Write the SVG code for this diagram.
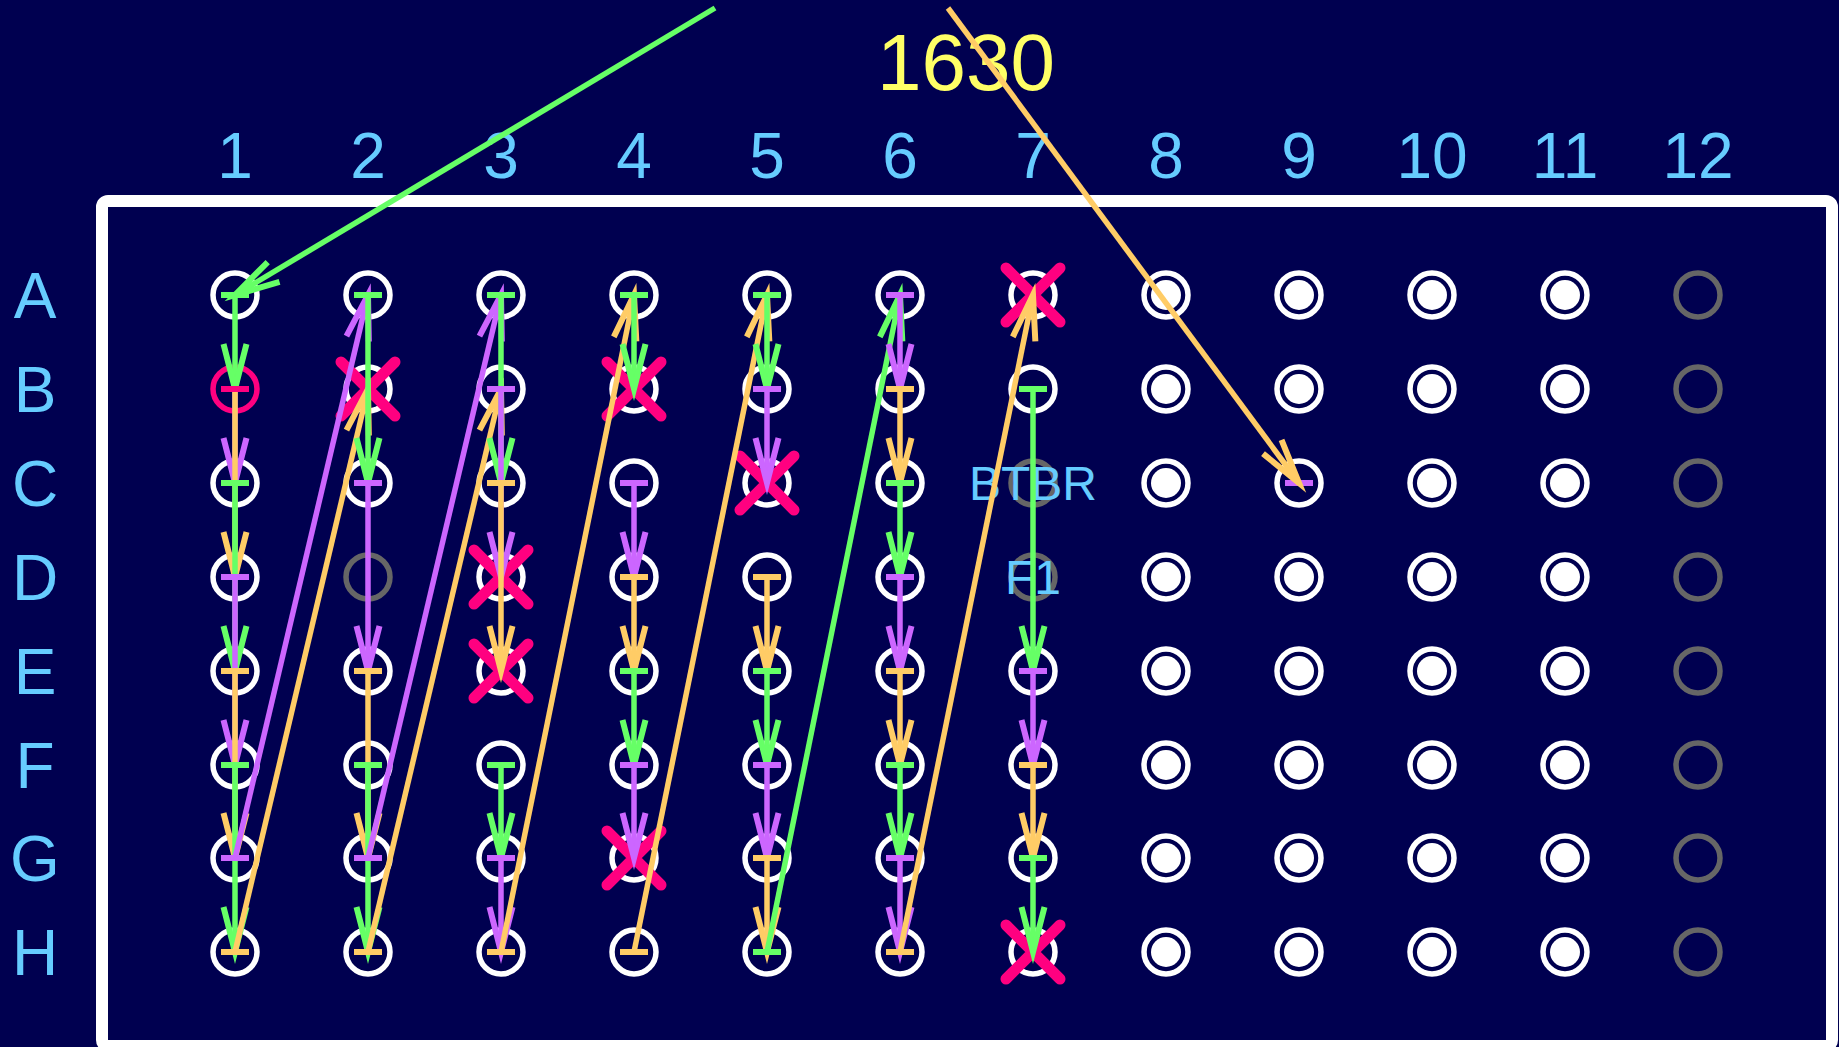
<svg xmlns="http://www.w3.org/2000/svg" width="1839" height="1047" viewBox="0 0 1839 1047">
<style>
.w{fill:none;stroke:#fff;stroke-width:5.5}
.gr{fill:none;stroke:#666;stroke-width:5.5}
.pk{fill:none;stroke:#ff0080;stroke-width:5.5}
.dot{fill:#fff}
.x{fill:none;stroke:#ff0080;stroke-width:11;stroke-linecap:round}
.lbl{font-family:"Liberation Sans",Arial,sans-serif;fill:#66ccff;font-size:64px;text-anchor:middle}
.sm{font-size:48px}
.ttl{font-family:"Liberation Sans",Arial,sans-serif;fill:#ffff66;font-size:80px;text-anchor:middle}
.c{fill:none;stroke-width:5.5}
.cg{stroke:#66ff66}.cp{stroke:#cc66ff}.co{stroke:#ffcc66}.ck{stroke:#ff0080}
.ah{fill:none;stroke-width:6;stroke-linejoin:miter;stroke-miterlimit:10}
.tk{fill:none;stroke-width:6}
.g1{marker-start:url(#tg);marker-end:url(#ag)}
.p1{marker-start:url(#tp);marker-end:url(#ap)}
.o1{marker-start:url(#to);marker-end:url(#ao)}
</style>
<defs>
<marker id="ag" markerUnits="userSpaceOnUse" orient="auto" viewBox="-60 -60 120 120" markerWidth="120" markerHeight="120" refX="0" refY="0"><path class="ah" stroke="#66ff66" d="M-45,-11.5L0,0L-45,11.5"/></marker>
<marker id="ap" markerUnits="userSpaceOnUse" orient="auto" viewBox="-60 -60 120 120" markerWidth="120" markerHeight="120" refX="0" refY="0"><path class="ah" stroke="#cc66ff" d="M-45,-11.5L0,0L-45,11.5"/></marker>
<marker id="ao" markerUnits="userSpaceOnUse" orient="auto" viewBox="-60 -60 120 120" markerWidth="120" markerHeight="120" refX="0" refY="0"><path class="ah" stroke="#ffcc66" d="M-45,-11.5L0,0L-45,11.5"/></marker>
<marker id="tg" markerUnits="userSpaceOnUse" orient="0" viewBox="-30 -30 60 60" markerWidth="60" markerHeight="60" refX="0" refY="0"><path class="tk" stroke="#66ff66" d="M-14,0H14"/></marker>
<marker id="tp" markerUnits="userSpaceOnUse" orient="0" viewBox="-30 -30 60 60" markerWidth="60" markerHeight="60" refX="0" refY="0"><path class="tk" stroke="#cc66ff" d="M-14,0H14"/></marker>
<marker id="to" markerUnits="userSpaceOnUse" orient="0" viewBox="-30 -30 60 60" markerWidth="60" markerHeight="60" refX="0" refY="0"><path class="tk" stroke="#ffcc66" d="M-14,0H14"/></marker>
</defs>
<rect width="1839" height="1047" fill="#000050"/>
<text class="ttl" x="966" y="90">1630</text>
<g id="col-labels">
<text class="lbl" x="235" y="178">1</text><text class="lbl" x="368" y="178">2</text><text class="lbl" x="501" y="178">3</text><text class="lbl" x="634" y="178">4</text><text class="lbl" x="767" y="178">5</text><text class="lbl" x="900" y="178">6</text><text class="lbl" x="1033" y="178">7</text><text class="lbl" x="1166" y="178">8</text><text class="lbl" x="1299" y="178">9</text><text class="lbl" x="1432" y="178">10</text><text class="lbl" x="1565" y="178">11</text><text class="lbl" x="1698" y="178">12</text>
</g>
<g id="row-labels">
<text class="lbl" x="35" y="318">A</text><text class="lbl" x="35" y="412">B</text><text class="lbl" x="35" y="506">C</text><text class="lbl" x="35" y="600">D</text><text class="lbl" x="35" y="694">E</text><text class="lbl" x="35" y="788">F</text><text class="lbl" x="35" y="881">G</text><text class="lbl" x="35" y="975">H</text>
</g>
<rect id="plate" x="102" y="201" width="1730" height="845" rx="6" fill="none" stroke="#fff" stroke-width="12"/>
<g id="wells">
<g id="A1"><circle class="w" cx="235" cy="295" r="22"/></g>
<g id="A2"><circle class="w" cx="368" cy="295" r="22"/></g>
<g id="A3"><circle class="w" cx="501" cy="295" r="22"/></g>
<g id="A4"><circle class="w" cx="634" cy="295" r="22"/></g>
<g id="A5"><circle class="w" cx="767" cy="295" r="22"/></g>
<g id="A6"><circle class="w" cx="900" cy="295" r="22"/></g>
<g id="A7"><circle class="w" cx="1033" cy="295" r="22"/><path class="x" d="M1006,268L1060,322M1060,268L1006,322"/></g>
<g id="A8"><circle class="w" cx="1166" cy="295" r="22"/><circle class="dot" cx="1166" cy="295" r="15"/></g>
<g id="A9"><circle class="w" cx="1299" cy="295" r="22"/><circle class="dot" cx="1299" cy="295" r="15"/></g>
<g id="A10"><circle class="w" cx="1432" cy="295" r="22"/><circle class="dot" cx="1432" cy="295" r="15"/></g>
<g id="A11"><circle class="w" cx="1565" cy="295" r="22"/><circle class="dot" cx="1565" cy="295" r="15"/></g>
<g id="A12"><circle class="gr" cx="1698" cy="295" r="22"/></g>
<g id="B1"><circle class="pk" cx="235" cy="389" r="22"/></g>
<g id="B2"><circle class="w" cx="368" cy="389" r="22"/><path class="x" d="M341,362L395,416M395,362L341,416"/></g>
<g id="B3"><circle class="w" cx="501" cy="389" r="22"/></g>
<g id="B4"><circle class="w" cx="634" cy="389" r="22"/><path class="x" d="M607,362L661,416M661,362L607,416"/></g>
<g id="B5"><circle class="w" cx="767" cy="389" r="22"/></g>
<g id="B6"><circle class="w" cx="900" cy="389" r="22"/></g>
<g id="B7"><circle class="w" cx="1033" cy="389" r="22"/></g>
<g id="B8"><circle class="w" cx="1166" cy="389" r="22"/><circle class="dot" cx="1166" cy="389" r="15"/></g>
<g id="B9"><circle class="w" cx="1299" cy="389" r="22"/><circle class="dot" cx="1299" cy="389" r="15"/></g>
<g id="B10"><circle class="w" cx="1432" cy="389" r="22"/><circle class="dot" cx="1432" cy="389" r="15"/></g>
<g id="B11"><circle class="w" cx="1565" cy="389" r="22"/><circle class="dot" cx="1565" cy="389" r="15"/></g>
<g id="B12"><circle class="gr" cx="1698" cy="389" r="22"/></g>
<g id="C1"><circle class="w" cx="235" cy="483" r="22"/></g>
<g id="C2"><circle class="w" cx="368" cy="483" r="22"/></g>
<g id="C3"><circle class="w" cx="501" cy="483" r="22"/></g>
<g id="C4"><circle class="w" cx="634" cy="483" r="22"/></g>
<g id="C5"><circle class="w" cx="767" cy="483" r="22"/><path class="x" d="M740,456L794,510M794,456L740,510"/></g>
<g id="C6"><circle class="w" cx="900" cy="483" r="22"/></g>
<g id="C7"><circle class="gr" cx="1033" cy="483" r="22"/><text class="lbl sm" x="1033" y="500">BTBR</text></g>
<g id="C8"><circle class="w" cx="1166" cy="483" r="22"/><circle class="dot" cx="1166" cy="483" r="15"/></g>
<g id="C9"><circle class="w" cx="1299" cy="483" r="22"/></g>
<g id="C10"><circle class="w" cx="1432" cy="483" r="22"/><circle class="dot" cx="1432" cy="483" r="15"/></g>
<g id="C11"><circle class="w" cx="1565" cy="483" r="22"/><circle class="dot" cx="1565" cy="483" r="15"/></g>
<g id="C12"><circle class="gr" cx="1698" cy="483" r="22"/></g>
<g id="D1"><circle class="w" cx="235" cy="577" r="22"/></g>
<g id="D2"><circle class="gr" cx="368" cy="577" r="22"/></g>
<g id="D3"><circle class="w" cx="501" cy="577" r="22"/><path class="x" d="M474,550L528,604M528,550L474,604"/></g>
<g id="D4"><circle class="w" cx="634" cy="577" r="22"/></g>
<g id="D5"><circle class="w" cx="767" cy="577" r="22"/></g>
<g id="D6"><circle class="w" cx="900" cy="577" r="22"/></g>
<g id="D7"><circle class="gr" cx="1033" cy="577" r="22"/><text class="lbl sm" x="1033" y="594">F1</text></g>
<g id="D8"><circle class="w" cx="1166" cy="577" r="22"/><circle class="dot" cx="1166" cy="577" r="15"/></g>
<g id="D9"><circle class="w" cx="1299" cy="577" r="22"/><circle class="dot" cx="1299" cy="577" r="15"/></g>
<g id="D10"><circle class="w" cx="1432" cy="577" r="22"/><circle class="dot" cx="1432" cy="577" r="15"/></g>
<g id="D11"><circle class="w" cx="1565" cy="577" r="22"/><circle class="dot" cx="1565" cy="577" r="15"/></g>
<g id="D12"><circle class="gr" cx="1698" cy="577" r="22"/></g>
<g id="E1"><circle class="w" cx="235" cy="671" r="22"/></g>
<g id="E2"><circle class="w" cx="368" cy="671" r="22"/></g>
<g id="E3"><circle class="w" cx="501" cy="671" r="22"/><path class="x" d="M474,644L528,698M528,644L474,698"/></g>
<g id="E4"><circle class="w" cx="634" cy="671" r="22"/></g>
<g id="E5"><circle class="w" cx="767" cy="671" r="22"/></g>
<g id="E6"><circle class="w" cx="900" cy="671" r="22"/></g>
<g id="E7"><circle class="w" cx="1033" cy="671" r="22"/></g>
<g id="E8"><circle class="w" cx="1166" cy="671" r="22"/><circle class="dot" cx="1166" cy="671" r="15"/></g>
<g id="E9"><circle class="w" cx="1299" cy="671" r="22"/><circle class="dot" cx="1299" cy="671" r="15"/></g>
<g id="E10"><circle class="w" cx="1432" cy="671" r="22"/><circle class="dot" cx="1432" cy="671" r="15"/></g>
<g id="E11"><circle class="w" cx="1565" cy="671" r="22"/><circle class="dot" cx="1565" cy="671" r="15"/></g>
<g id="E12"><circle class="gr" cx="1698" cy="671" r="22"/></g>
<g id="F1w"><circle class="w" cx="235" cy="765" r="22"/></g>
<g id="F2"><circle class="w" cx="368" cy="765" r="22"/></g>
<g id="F3"><circle class="w" cx="501" cy="765" r="22"/></g>
<g id="F4"><circle class="w" cx="634" cy="765" r="22"/></g>
<g id="F5"><circle class="w" cx="767" cy="765" r="22"/></g>
<g id="F6"><circle class="w" cx="900" cy="765" r="22"/></g>
<g id="F7"><circle class="w" cx="1033" cy="765" r="22"/></g>
<g id="F8"><circle class="w" cx="1166" cy="765" r="22"/><circle class="dot" cx="1166" cy="765" r="15"/></g>
<g id="F9"><circle class="w" cx="1299" cy="765" r="22"/><circle class="dot" cx="1299" cy="765" r="15"/></g>
<g id="F10"><circle class="w" cx="1432" cy="765" r="22"/><circle class="dot" cx="1432" cy="765" r="15"/></g>
<g id="F11"><circle class="w" cx="1565" cy="765" r="22"/><circle class="dot" cx="1565" cy="765" r="15"/></g>
<g id="F12"><circle class="gr" cx="1698" cy="765" r="22"/></g>
<g id="G1"><circle class="w" cx="235" cy="858" r="22"/></g>
<g id="G2"><circle class="w" cx="368" cy="858" r="22"/></g>
<g id="G3"><circle class="w" cx="501" cy="858" r="22"/></g>
<g id="G4"><circle class="w" cx="634" cy="858" r="22"/><path class="x" d="M607,831L661,885M661,831L607,885"/></g>
<g id="G5"><circle class="w" cx="767" cy="858" r="22"/></g>
<g id="G6"><circle class="w" cx="900" cy="858" r="22"/></g>
<g id="G7"><circle class="w" cx="1033" cy="858" r="22"/></g>
<g id="G8"><circle class="w" cx="1166" cy="858" r="22"/><circle class="dot" cx="1166" cy="858" r="15"/></g>
<g id="G9"><circle class="w" cx="1299" cy="858" r="22"/><circle class="dot" cx="1299" cy="858" r="15"/></g>
<g id="G10"><circle class="w" cx="1432" cy="858" r="22"/><circle class="dot" cx="1432" cy="858" r="15"/></g>
<g id="G11"><circle class="w" cx="1565" cy="858" r="22"/><circle class="dot" cx="1565" cy="858" r="15"/></g>
<g id="G12"><circle class="gr" cx="1698" cy="858" r="22"/></g>
<g id="H1"><circle class="w" cx="235" cy="952" r="22"/></g>
<g id="H2"><circle class="w" cx="368" cy="952" r="22"/></g>
<g id="H3"><circle class="w" cx="501" cy="952" r="22"/></g>
<g id="H4"><circle class="w" cx="634" cy="952" r="22"/></g>
<g id="H5"><circle class="w" cx="767" cy="952" r="22"/></g>
<g id="H6"><circle class="w" cx="900" cy="952" r="22"/></g>
<g id="H7"><circle class="w" cx="1033" cy="952" r="22"/><path class="x" d="M1006,925L1060,979M1060,925L1006,979"/></g>
<g id="H8"><circle class="w" cx="1166" cy="952" r="22"/><circle class="dot" cx="1166" cy="952" r="15"/></g>
<g id="H9"><circle class="w" cx="1299" cy="952" r="22"/><circle class="dot" cx="1299" cy="952" r="15"/></g>
<g id="H10"><circle class="w" cx="1432" cy="952" r="22"/><circle class="dot" cx="1432" cy="952" r="15"/></g>
<g id="H11"><circle class="w" cx="1565" cy="952" r="22"/><circle class="dot" cx="1565" cy="952" r="15"/></g>
<g id="H12"><circle class="gr" cx="1698" cy="952" r="22"/></g>
</g>
<g id="connectors">
<line class="c cg" x1="715" y1="8" x2="235" y2="295" marker-end="url(#ag)"/>
<line class="c cg g1" x1="235" y1="295" x2="235" y2="389"/>
<line class="c cp p1" x1="235" y1="389" x2="235" y2="483"/>
<line class="c co o1" x1="235" y1="389" x2="235" y2="577"/>
<path class="tk ck" d="M221,389H249"/>
<line class="c cg g1" x1="235" y1="483" x2="235" y2="671"/>
<line class="c cp p1" x1="235" y1="577" x2="235" y2="765"/>
<line class="c co o1" x1="235" y1="671" x2="235" y2="858"/>
<line class="c cg g1" x1="235" y1="765" x2="235" y2="952"/>
<line class="c cp p1" x1="235" y1="858" x2="368" y2="295"/>
<line class="c co o1" x1="235" y1="952" x2="368" y2="389"/>
<line class="c cg g1" x1="368" y1="295" x2="368" y2="483"/>
<line class="c cp p1" x1="368" y1="483" x2="368" y2="671"/>
<line class="c co o1" x1="368" y1="671" x2="368" y2="858"/>
<line class="c cg g1" x1="368" y1="765" x2="368" y2="952"/>
<line class="c cp p1" x1="368" y1="858" x2="501" y2="295"/>
<line class="c co o1" x1="368" y1="952" x2="501" y2="389"/>
<line class="c cg g1" x1="501" y1="295" x2="501" y2="483"/>
<line class="c cp p1" x1="501" y1="389" x2="501" y2="577"/>
<line class="c co o1" x1="501" y1="483" x2="501" y2="671"/>
<line class="c cg g1" x1="501" y1="765" x2="501" y2="858"/>
<line class="c cp p1" x1="501" y1="858" x2="501" y2="952"/>
<line class="c co o1" x1="501" y1="952" x2="634" y2="295"/>
<line class="c cg g1" x1="634" y1="295" x2="634" y2="389"/>
<line class="c cp p1" x1="634" y1="483" x2="634" y2="577"/>
<line class="c co o1" x1="634" y1="577" x2="634" y2="671"/>
<line class="c cg g1" x1="634" y1="671" x2="634" y2="765"/>
<line class="c cp p1" x1="634" y1="765" x2="634" y2="858"/>
<line class="c co o1" x1="634" y1="952" x2="767" y2="295"/>
<line class="c cg g1" x1="767" y1="295" x2="767" y2="389"/>
<line class="c cp p1" x1="767" y1="389" x2="767" y2="483"/>
<line class="c co o1" x1="767" y1="577" x2="767" y2="671"/>
<line class="c cg g1" x1="767" y1="671" x2="767" y2="765"/>
<line class="c cp p1" x1="767" y1="765" x2="767" y2="858"/>
<line class="c co o1" x1="767" y1="858" x2="767" y2="952"/>
<line class="c cg g1" x1="767" y1="952" x2="900" y2="295"/>
<line class="c cp p1" x1="900" y1="295" x2="900" y2="389"/>
<line class="c co o1" x1="900" y1="389" x2="900" y2="483"/>
<line class="c cg g1" x1="900" y1="483" x2="900" y2="577"/>
<line class="c cp p1" x1="900" y1="577" x2="900" y2="671"/>
<line class="c co o1" x1="900" y1="671" x2="900" y2="765"/>
<line class="c cg g1" x1="900" y1="765" x2="900" y2="858"/>
<line class="c cp p1" x1="900" y1="858" x2="900" y2="952"/>
<line class="c co o1" x1="900" y1="952" x2="1033" y2="295"/>
<line class="c cg g1" x1="1033" y1="389" x2="1033" y2="671"/>
<line class="c cp p1" x1="1033" y1="671" x2="1033" y2="765"/>
<line class="c co o1" x1="1033" y1="765" x2="1033" y2="858"/>
<line class="c cg g1" x1="1033" y1="858" x2="1033" y2="952"/>
<path class="tk cp" d="M1285,483H1313"/>
<line class="c co" x1="948" y1="8" x2="1299" y2="483" marker-end="url(#ao)"/>
</g>
</svg>
